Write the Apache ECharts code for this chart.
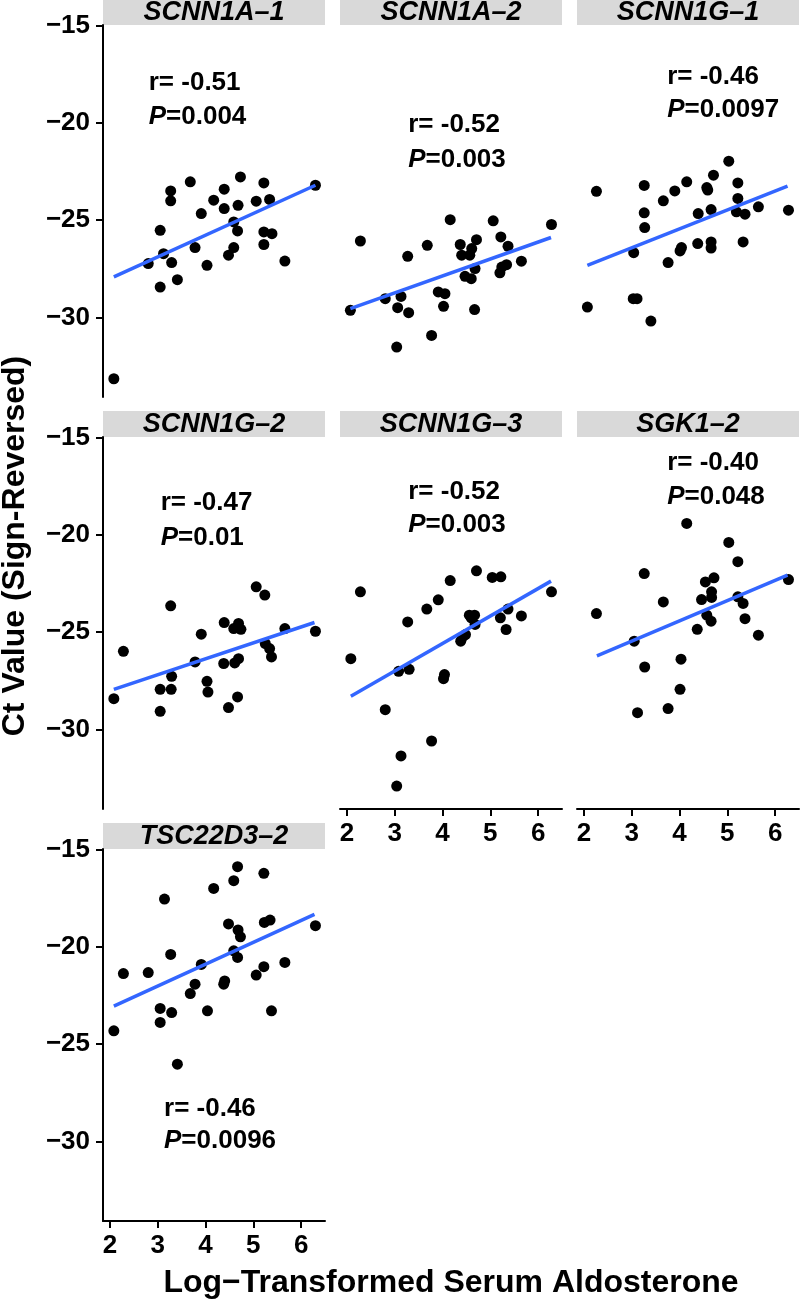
<!DOCTYPE html>
<html>
<head>
<meta charset="utf-8">
<script src="https://cdn.jsdelivr.net/npm/echarts@6/dist/echarts.min.js"></script>
<style>
html,body{margin:0;padding:0;background:#fff;}
#chart{width:800px;height:1308px;}
</style>
</head>
<body>
<div id="chart"></div>
<script>
// ---------- DATA ----------
const panelNames = ['SCNN1A\u20131','SCNN1A\u20132','SCNN1G\u20131','SCNN1G\u20132','SCNN1G\u20133','SGK1\u20132','TSC22D3\u20132'];
const rValues = ['-0.51','-0.52','-0.46','-0.47','-0.52','-0.40','-0.46'];
const pValues = ['0.004','0.003','0.0097','0.01','0.003','0.048','0.0096'];

const xTicks = [2, 3, 4, 5, 6];
const yTicks = [-30, -25, -20, -15];

const ptsSCNN1A_1 = [[2.08,-33.16],[2.80,-27.23],[3.05,-25.52],[3.05,-28.44],[3.12,-26.72],[3.27,-23.49],[3.27,-24.00],[3.29,-27.18],[3.41,-28.06],[3.68,-23.02],[3.78,-26.41],[3.91,-24.66],[4.03,-27.32],[4.17,-23.97],[4.39,-23.40],[4.39,-24.40],[4.48,-26.80],[4.59,-25.09],[4.59,-26.41],[4.67,-25.55],[4.68,-24.23],[4.73,-22.77],[5.06,-24.02],[5.22,-23.08],[5.22,-25.60],[5.22,-26.25],[5.34,-23.93],[5.39,-25.69],[5.66,-27.10],[6.30,-23.20]];
const ptsSCNN1A_2 = [[2.07,-29.64],[2.28,-26.07],[2.80,-29.04],[3.04,-31.53],[3.06,-29.50],[3.13,-28.92],[3.27,-26.86],[3.29,-29.76],[3.68,-26.29],[3.77,-30.93],[3.91,-28.69],[4.02,-29.43],[4.05,-28.78],[4.16,-24.97],[4.37,-26.25],[4.40,-26.80],[4.47,-27.89],[4.57,-26.80],[4.60,-28.01],[4.61,-26.46],[4.67,-29.60],[4.68,-27.49],[4.71,-26.00],[5.06,-25.03],[5.20,-27.71],[5.22,-25.86],[5.24,-27.41],[5.34,-27.29],[5.37,-26.34],[5.65,-27.11],[6.28,-25.22]];
const ptsSCNN1G_1 = [[2.07,-29.47],[2.26,-23.51],[3.04,-26.67],[3.03,-29.04],[3.11,-29.04],[3.26,-23.21],[3.26,-24.62],[3.27,-25.38],[3.40,-30.19],[3.66,-24.00],[3.76,-27.18],[3.90,-23.49],[4.01,-26.58],[4.04,-26.41],[4.15,-23.02],[4.38,-26.20],[4.39,-24.66],[4.57,-23.32],[4.59,-23.45],[4.66,-24.45],[4.66,-26.12],[4.66,-26.43],[4.71,-22.68],[5.03,-21.96],[5.19,-24.57],[5.22,-23.08],[5.22,-23.88],[5.33,-26.12],[5.37,-24.69],[5.65,-24.31],[6.28,-24.48]];
const ptsSCNN1G_2 = [[2.08,-28.42],[2.28,-25.98],[3.05,-27.94],[3.05,-29.07],[3.27,-23.64],[3.28,-27.94],[3.29,-27.27],[3.78,-26.53],[3.91,-25.10],[4.03,-27.53],[4.05,-28.08],[4.39,-24.50],[4.38,-26.61],[4.48,-28.88],[4.59,-24.81],[4.61,-26.58],[4.67,-28.33],[4.69,-24.55],[4.69,-26.36],[4.74,-24.85],[5.06,-22.66],[5.24,-23.09],[5.25,-25.58],[5.34,-25.84],[5.38,-26.27],[5.66,-24.81],[6.30,-24.95]];
const ptsSCNN1G_3 = [[2.08,-26.36],[2.28,-22.92],[2.80,-28.99],[3.04,-32.92],[3.08,-27.01],[3.13,-31.37],[3.27,-24.47],[3.30,-26.91],[3.67,-23.81],[3.77,-30.60],[3.91,-23.33],[4.02,-27.39],[4.04,-27.18],[4.16,-22.34],[4.38,-25.46],[4.42,-25.24],[4.48,-25.12],[4.56,-24.12],[4.60,-24.26],[4.67,-24.12],[4.68,-24.60],[4.71,-21.84],[5.04,-22.18],[5.22,-22.15],[5.21,-24.26],[5.33,-24.86],[5.37,-23.81],[5.65,-24.16],[6.28,-22.92]];
const ptsSGK1_2 = [[2.26,-24.04],[3.05,-25.46],[3.12,-29.14],[3.26,-21.98],[3.27,-26.79],[3.66,-23.44],[3.76,-28.93],[4.01,-27.94],[4.03,-26.39],[4.15,-19.40],[4.37,-24.85],[4.46,-23.32],[4.54,-22.41],[4.57,-24.12],[4.66,-24.43],[4.67,-22.92],[4.67,-23.21],[4.72,-22.20],[5.03,-20.38],[5.22,-21.37],[5.22,-23.18],[5.33,-23.52],[5.37,-24.30],[5.65,-25.15],[6.28,-22.29]];
const ptsTSC22D3_2 = [[2.08,-24.31],[2.28,-21.36],[2.80,-21.31],[3.05,-23.16],[3.05,-23.88],[3.14,-17.53],[3.27,-20.38],[3.29,-23.37],[3.41,-26.03],[3.68,-22.39],[3.78,-21.91],[3.91,-20.89],[4.04,-23.28],[4.17,-16.98],[4.38,-21.91],[4.40,-21.74],[4.48,-18.81],[4.59,-16.58],[4.59,-20.19],[4.67,-15.86],[4.67,-20.53],[4.68,-19.12],[4.73,-19.47],[5.06,-21.44],[5.22,-16.20],[5.22,-21.01],[5.23,-18.73],[5.35,-18.61],[5.38,-23.28],[5.66,-20.79],[6.30,-18.90]];

// fitted regression line endpoints
const fitSCNN1A_1 = [[2.08,-27.92],[6.30,-23.20]];
const fitSCNN1A_2 = [[2.07,-29.55],[6.27,-25.89]];
const fitSCNN1G_1 = [[2.07,-27.32],[6.26,-23.25]];
const fitSCNN1G_2 = [[2.08,-27.94],[6.28,-24.50]];
const fitSCNN1G_3 = [[2.08,-28.30],[6.27,-22.37]];
const fitSGK1_2   = [[2.27,-26.22],[6.26,-22.06]];
const fitTSC22D3_2 = [[2.08,-23.04],[6.28,-18.32]];

// annotation anchor (x, y of r line, y of P line)
const annotX  = [2.80, 3.27, 3.73, 3.05, 3.27, 3.73, 3.12];
const annotYr = [-17.94, -20.10, -17.63, -18.35, -17.78, -16.29, -28.30];
const annotYp = [-19.69, -21.91, -19.33, -20.15, -19.48, -18.04, -29.95];

const panelPoints = [ptsSCNN1A_1, ptsSCNN1A_2, ptsSCNN1G_1, ptsSCNN1G_2, ptsSCNN1G_3, ptsSGK1_2, ptsTSC22D3_2];
const panelFits = [fitSCNN1A_1, fitSCNN1A_2, fitSCNN1G_1, fitSCNN1G_2, fitSCNN1G_3, fitSGK1_2, fitTSC22D3_2];

// ---------- LAYOUT ----------
const FONT = '"Liberation Sans", Arial, Helvetica, sans-serif';
const X_MIN = 1.853, X_MAX = 6.50, Y_MIN = -34.1, Y_MAX = -14.95;
const colLeft = [103, 340, 577];
const rowTop = [25, 437, 849];
const PW = 222, PH = 372, STRIP = 26;
const hasXAxis = [false, false, false, false, true, true, true];
const hasYAxis = [true, false, false, true, false, false, true];

const grids = [], xAxes = [], yAxes = [], series = [], graphics = [];

panelNames.forEach((name, i) => {
  const row = Math.floor(i / 3), col = i % 3;
  const left = colLeft[col], top = rowTop[row];
  grids.push({left: left, top: top, width: PW, height: PH, containLabel: false});
  const sx = hasXAxis[i], sy = hasYAxis[i];
  xAxes.push({
    gridIndex: i, type: 'value', min: X_MIN, max: X_MAX,
    axisLine: {show: sx, onZero: false, lineStyle: {color: '#000', width: 2}},
    axisTick: {show: sx, length: 7, customValues: xTicks, lineStyle: {color: '#000', width: 2}},
    axisLabel: {show: sx, customValues: xTicks, margin: 12, fontSize: 26, fontWeight: 'bold', color: '#000', fontFamily: FONT},
    splitLine: {show: false}
  });
  yAxes.push({
    gridIndex: i, type: 'value', min: Y_MIN, max: Y_MAX,
    axisLine: {show: sy, onZero: false, lineStyle: {color: '#000', width: 2}},
    axisTick: {show: sy, length: 7, customValues: yTicks, lineStyle: {color: '#000', width: 2}},
    axisLabel: {show: sy, customValues: yTicks, margin: 13, fontSize: 26, fontWeight: 'bold', color: '#000', fontFamily: FONT,
      formatter: v => (v < 0 ? '\u2212' : '') + Math.abs(v)},
    splitLine: {show: false}
  });
  series.push({
    type: 'scatter', xAxisIndex: i, yAxisIndex: i, data: panelPoints[i],
    symbol: 'circle', symbolSize: 11, itemStyle: {color: '#000', opacity: 1}, z: 2, silent: true
  });
  series.push({
    type: 'line', xAxisIndex: i, yAxisIndex: i, data: panelFits[i],
    symbol: 'none', lineStyle: {color: '#3366FF', width: 3.5, opacity: 1}, z: 3, silent: true
  });
  const r = rValues[i], p = pValues[i];
  series.push({
    type: 'scatter', xAxisIndex: i, yAxisIndex: i,
    data: [{value: [annotX[i], annotYr[i]], name: 'r'}, {value: [annotX[i], annotYp[i]], name: 'p'}],
    symbolSize: 1, itemStyle: {color: 'rgba(0,0,0,0)', opacity: 1}, z: 4, silent: true,
    label: {
      show: true, position: 'right', distance: 0, color: '#000', opacity: 1,
      formatter: prm => prm.name === 'r' ? '{b|r= ' + r + '}' : '{i|P}{b|=' + p + '}',
      rich: {
        b: {fontSize: 26, fontWeight: 'bold', color: '#000', fontFamily: FONT},
        i: {fontSize: 26, fontWeight: 'bold', fontStyle: 'italic', color: '#000', fontFamily: FONT}
      }
    }
  });
  graphics.push({type: 'rect', shape: {x: left, y: top - STRIP, width: PW, height: STRIP}, style: {fill: '#D9D9D9'}, silent: true});
  graphics.push({type: 'text', x: left + PW / 2, y: top - STRIP / 2 + 1,
    style: {text: name, font: 'italic bold 27px ' + FONT, fill: '#000', textAlign: 'center', textVerticalAlign: 'middle'}, silent: true});
});

graphics.push({type: 'text', x: 451, y: 1283,
  style: {text: 'Log\u2212Transformed Serum Aldosterone', font: 'bold 32px ' + FONT, fill: '#000', textAlign: 'center', textVerticalAlign: 'middle'}});
graphics.push({type: 'text', x: 15, y: 546, rotation: Math.PI / 2,
  style: {text: 'Ct Value (Sign-Reversed)', font: 'bold 32px ' + FONT, fill: '#000', textAlign: 'center', textVerticalAlign: 'middle'}});

const chart = echarts.init(document.getElementById('chart'), null, {renderer: 'canvas'});
chart.setOption({
  animation: false,
  backgroundColor: '#fff',
  grid: grids, xAxis: xAxes, yAxis: yAxes, series: series, graphic: graphics
});
</script>
</body>
</html>
